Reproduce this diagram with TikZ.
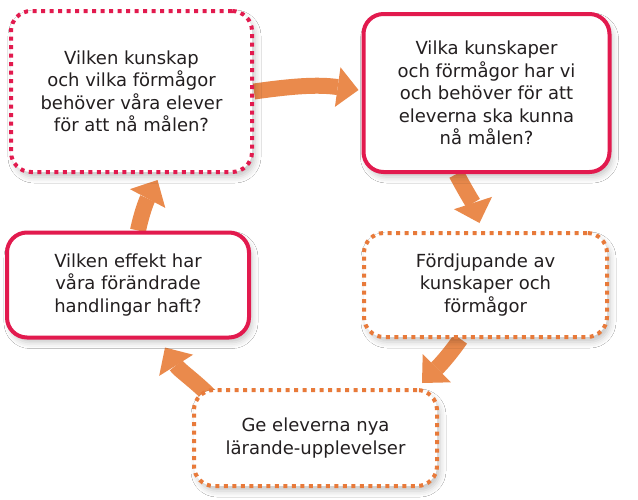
\documentclass[tikz,border=0pt]{standalone}
\usepackage{fontspec}
\setmainfont{DejaVu Sans}
\usetikzlibrary{arrows.meta,shadows.blur,backgrounds}
\definecolor{kantrod}{RGB}{226,26,78}
\definecolor{kantorange}{RGB}{232,122,58}
\definecolor{pilorange}{RGB}{234,138,76}
\definecolor{textgra}{RGB}{35,31,32}

\begin{document}
\begin{tikzpicture}[
        x=1pt, y=1pt,
        % Gemensam stil för alla rutor
        ruta/.style={
            rounded corners=20pt,
            line width=4pt,
            fill=white,
            align=center,
            text=textgra,
            inner sep=0pt,
            font=\fontsize{18}{22.5}\selectfont,
            blur shadow={shadow xshift=3pt, shadow yshift=-5pt,
                shadow blur radius=6pt, shadow opacity=22}
        },
        % Heldragen röd ram
        hel ruta/.style={ruta, draw=kantrod},
        % Prickad ram (färgen anges vid noden)
        prick ruta/.style={ruta, dash pattern=on 4pt off 4.5pt},
        % Tjocka orange pilar mellan rutorna
        pil/.style={
            draw=pilorange,
            line width=16pt,
            -{Triangle[width=40pt, length=21pt, line width=0pt]}
        }
    ]

        % Bildens ram (638 x 499)
        \useasboundingbox (0,0) rectangle (638,-499);

        % Övre raden
        \node[prick ruta, draw=kantrod, minimum width=241pt, minimum height=161pt]
            (fraga1) at (131.5,-91.5)
            {Vilken kunskap\\och vilka förmågor\\behöver våra elever\\för att nå målen?};
        \node[hel ruta, minimum width=246pt, minimum height=158pt]
            (fraga2) at (486.5,-93)
            {Vilka kunskaper\\och förmågor har vi\\och behöver för att\\eleverna ska kunna\\nå målen?};

        % Mittraden
        \node[hel ruta, minimum width=242pt, minimum height=105pt]
            (effekt) at (128,-285)
            {Vilken effekt har\\våra förändrade\\handlingar haft?};
        \node[prick ruta, draw=kantorange, minimum width=243pt, minimum height=104pt]
            (fordjup) at (485.5,-285)
            {Fördjupande av\\kunskaper och\\förmågor};

        % Nedersta rutan
        \node[prick ruta, draw=kantorange, minimum width=243pt, minimum height=96pt]
            (upplev) at (315.5,-438)
            {Ge eleverna nya\\lärande-upplevelser};

        % Pilarna ligger bakom rutorna
        \begin{pgfonlayer}{background}
            \fill[white] (0,0) rectangle (638,-499);
            \draw[pil] (fraga1.east) to[out=8, in=172] ([xshift=-3pt, yshift=3pt]fraga2.west);
            \draw[pil] ([xshift=-30pt]fraga2.south) to[out=-62, in=108] ([xshift=-6pt, yshift=8pt]fordjup.north);
            \draw[pil] ([xshift=-25pt]fordjup.south) to[out=-125, in=45] ([xshift=-17pt, yshift=5pt]upplev.north east);
            \draw[pil] ([xshift=20pt, yshift=-10pt]upplev.north west) to[out=135, in=-58] ([xshift=37pt, yshift=-8pt]effekt.south);
            \draw[pil] ([xshift=10pt]effekt.north) to[out=78, in=-118] ([xshift=26pt, yshift=-6pt]fraga1.south);
        \end{pgfonlayer}

    \end{tikzpicture}
\end{document}
